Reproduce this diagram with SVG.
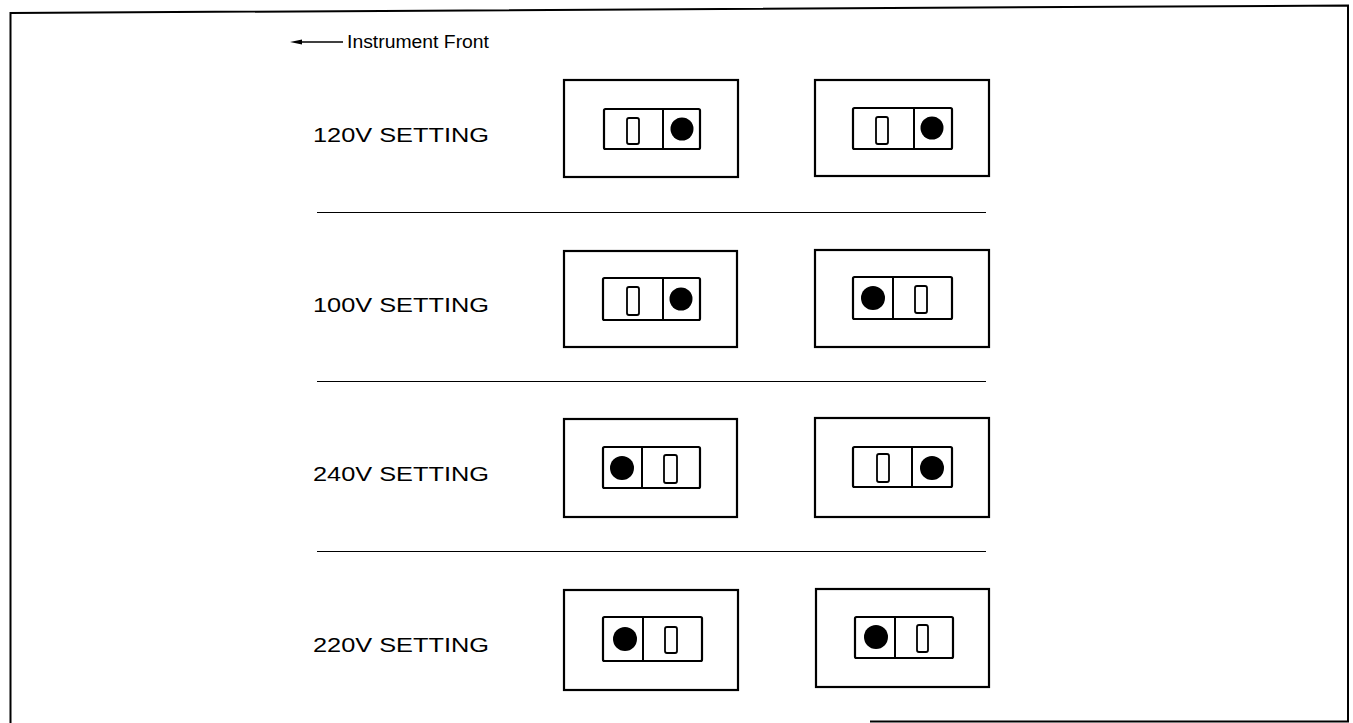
<svg xmlns="http://www.w3.org/2000/svg" width="1353" height="723" viewBox="0 0 1353 723">
<style>
.frame{fill:none;stroke:#000;stroke-width:2}
.outer{fill:#fff;stroke:#000;stroke-width:2.2}
.inner{fill:#fff;stroke:#000;stroke-width:2.2}
.div{stroke:#000;stroke-width:2}
.slot{fill:#fff;stroke:#000;stroke-width:1.8}
.dot{fill:#000}
.sep{stroke:#000;stroke-width:1}
.lbl{font-family:"Liberation Sans",Arial,sans-serif;font-size:20px;fill:#000}
.hdr{font-family:"Liberation Sans",Arial,sans-serif;font-size:17.5px;fill:#000}
</style>
<defs>
<marker id="ah" markerWidth="12" markerHeight="8" refX="0" refY="4" orient="auto" markerUnits="userSpaceOnUse">
<path d="M0,1.6 L12,4 L0,6.4 Z" fill="#000"/>
</marker>
</defs>
<rect width="1353" height="723" fill="#fff"/>
<path class="frame" d="M10.5,723 L10.5,13 L1348,5.5 L1348,721.5 L870,721.5"/>
<g id="header">
<line x1="343" y1="42" x2="302" y2="42" stroke="#000" stroke-width="1.6" marker-end="url(#ah)"/>
<text class="hdr" x="347" y="48" textLength="142" lengthAdjust="spacingAndGlyphs">Instrument Front</text>
</g>
<g id="separators">
<line class="sep" x1="317" y1="212.5" x2="986" y2="212.5"/>
<line class="sep" x1="317" y1="381.5" x2="986" y2="381.5"/>
<line class="sep" x1="317" y1="551.5" x2="986" y2="551.5"/>
</g>
<g id="row-120v">
<text class="lbl" x="313" y="142" textLength="176" lengthAdjust="spacingAndGlyphs">120V SETTING</text>
<g id="r1-left">
<rect class="outer" x="564" y="80" width="174" height="97"/>
<rect class="inner" x="604" y="109" width="96" height="40" rx="1.5"/>
<line class="div" x1="663" y1="109" x2="663" y2="149"/>
<rect class="slot" x="627" y="118" width="12" height="26" rx="2"/>
<circle class="dot" cx="682" cy="129" r="11.5"/>
</g>
<g id="r1-right">
<rect class="outer" x="815" y="80" width="174" height="96"/>
<rect class="inner" x="853" y="108" width="99" height="41" rx="1.5"/>
<line class="div" x1="914" y1="108" x2="914" y2="149"/>
<rect class="slot" x="876" y="117" width="12" height="27" rx="2"/>
<circle class="dot" cx="932" cy="128" r="11.5"/>
</g>
</g>
<g id="row-100v">
<text class="lbl" x="313" y="312" textLength="176" lengthAdjust="spacingAndGlyphs">100V SETTING</text>
<g id="r2-left">
<rect class="outer" x="564" y="251" width="173" height="96"/>
<rect class="inner" x="603" y="278" width="97" height="42" rx="1.5"/>
<line class="div" x1="663" y1="278" x2="663" y2="320"/>
<rect class="slot" x="627" y="287" width="12" height="28" rx="2"/>
<circle class="dot" cx="681" cy="299" r="11.5"/>
</g>
<g id="r2-right">
<rect class="outer" x="815" y="250" width="174" height="97"/>
<rect class="inner" x="853" y="277" width="99" height="42" rx="1.5"/>
<line class="div" x1="893" y1="277" x2="893" y2="319"/>
<circle class="dot" cx="873" cy="298" r="12"/>
<rect class="slot" x="915" y="286" width="12" height="27" rx="2"/>
</g>
</g>
<g id="row-240v">
<text class="lbl" x="313" y="481" textLength="176" lengthAdjust="spacingAndGlyphs">240V SETTING</text>
<g id="r3-left">
<rect class="outer" x="564" y="419" width="173" height="98"/>
<rect class="inner" x="603" y="447" width="97" height="41" rx="1.5"/>
<line class="div" x1="642" y1="447" x2="642" y2="488"/>
<circle class="dot" cx="622" cy="468" r="12"/>
<rect class="slot" x="664" y="455" width="13" height="28" rx="2"/>
</g>
<g id="r3-right">
<rect class="outer" x="815" y="418" width="174" height="99"/>
<rect class="inner" x="853" y="447" width="99" height="40" rx="1.5"/>
<line class="div" x1="912" y1="447" x2="912" y2="487"/>
<rect class="slot" x="877" y="454" width="12" height="28" rx="2"/>
<circle class="dot" cx="932" cy="468" r="12"/>
</g>
</g>
<g id="row-220v">
<text class="lbl" x="313" y="652" textLength="176" lengthAdjust="spacingAndGlyphs">220V SETTING</text>
<g id="r4-left">
<rect class="outer" x="564" y="590" width="174" height="100"/>
<rect class="inner" x="603" y="617" width="99" height="44" rx="1.5"/>
<line class="div" x1="643" y1="617" x2="643" y2="661"/>
<circle class="dot" cx="625" cy="639" r="12"/>
<rect class="slot" x="665" y="627" width="12" height="26" rx="2"/>
</g>
<g id="r4-right">
<rect class="outer" x="816" y="589" width="173" height="98"/>
<rect class="inner" x="855" y="617" width="98" height="41" rx="1.5"/>
<line class="div" x1="895" y1="617" x2="895" y2="658"/>
<circle class="dot" cx="876" cy="637" r="12"/>
<rect class="slot" x="917" y="625" width="11" height="27" rx="2"/>
</g>
</g>
</svg>
